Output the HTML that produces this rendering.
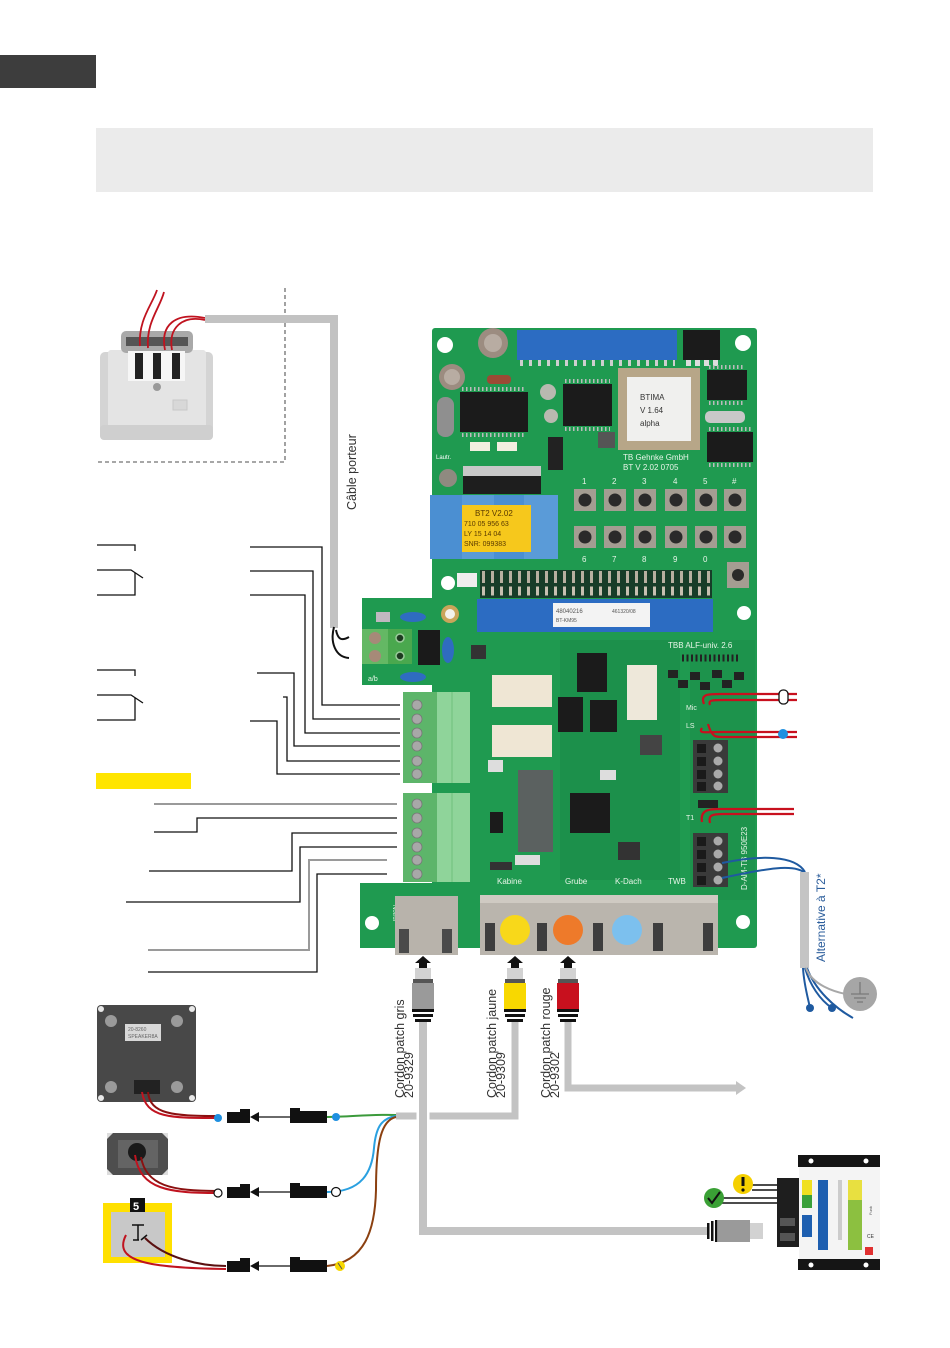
<!DOCTYPE html>
<html><head><meta charset="utf-8">
<style>
html,body{margin:0;padding:0;background:#fff;}
svg{display:block;}
text{font-family:"Liberation Sans",sans-serif;}
</style></head><body>
<svg width="950" height="1348" viewBox="0 0 950 1348" xmlns="http://www.w3.org/2000/svg">
<!-- header blocks -->
<rect x="0" y="55" width="96" height="33" fill="#3d3d3d"/>
<rect x="96" y="128" width="777" height="64" fill="#ebebeb"/>

<!-- dashed wall box -->
<path d="M285,288 V462 H97" fill="none" stroke="#8a8a8a" stroke-width="1.6" stroke-dasharray="4,3"/>

<!-- TAE socket -->
<g>
<rect x="100" y="352" width="113" height="88" rx="5" fill="#d4d4d4"/>
<rect x="108" y="350" width="98" height="78" rx="3" fill="#e4e4e4"/>
<rect x="100" y="425" width="113" height="15" rx="4" fill="#cfcfcf"/>
<rect x="121" y="331" width="72" height="22" rx="5" fill="#a9a9a9"/>
<rect x="126" y="337" width="62" height="9" fill="#555"/>
<rect x="128" y="351" width="57" height="30" fill="#f6f6f6"/>
<rect x="135" y="353" width="8" height="26" fill="#222"/>
<rect x="153" y="353" width="8" height="26" fill="#222"/>
<rect x="172" y="353" width="8" height="26" fill="#222"/>
<circle cx="157" cy="387" r="4" fill="#9a9a9a"/>
<rect x="173" y="400" width="14" height="10" fill="#d8d8d8" stroke="#c8c8c8"/>
</g>
<!-- red wires on socket -->
<g fill="none" stroke="#c0131f" stroke-width="1.8">
<path d="M140,346 C138,320 152,305 157,290"/>
<path d="M148,348 C146,322 160,308 164,292"/>
<path d="M165,350 C160,325 175,312 205,318"/>
<path d="M172,350 C168,328 182,315 205,320"/>
</g>
<!-- carrier cable -->
<path d="M205,319 H334 V628" fill="none" stroke="#c2c2c2" stroke-width="8"/>
<g fill="none" stroke="#111" stroke-width="2">
<path d="M334,627 C330,642 335,657 349,658"/>
<path d="M336,630 C338,640 342,641 349,637"/>
</g>
<text transform="translate(356,510) rotate(-90)" font-size="12.5" fill="#333">Câble porteur</text>

<!-- ============ PCB ============ -->
<g>
<rect x="432" y="328" width="325" height="620" rx="3" fill="#1f9a50"/>
<rect x="362" y="598" width="90" height="87" fill="#1f9a50"/>
<rect x="360" y="883" width="112" height="65" fill="#1f9a50"/>
<!-- subtle darker zones -->
<rect x="560" y="640" width="120" height="240" fill="#1a8a47" opacity="0.6"/>
<rect x="690" y="640" width="65" height="260" fill="#1c9049" opacity="0.6"/>
<!-- mounting holes -->
<g fill="#fff">
<circle cx="445" cy="345" r="8"/><circle cx="743" cy="343" r="8"/>
<circle cx="448" cy="583" r="7"/><circle cx="744" cy="613" r="7"/>
<circle cx="743" cy="922" r="7"/><circle cx="372" cy="923" r="7"/>
</g>
<circle cx="450" cy="614" r="9" fill="#c9a55a"/><circle cx="450" cy="614" r="5" fill="#f2f2ec"/>

<!-- top blue connector -->
<rect x="517" y="330" width="160" height="30" fill="#2c6cc2"/>
<line x1="520" y1="363" x2="675" y2="363" stroke="#cfcfcf" stroke-width="6" stroke-dasharray="3,6"/>
<!-- top right chip -->
<rect x="683" y="330" width="37" height="30" fill="#1b1b1b"/>
<line x1="686" y1="363" x2="718" y2="363" stroke="#ddd" stroke-width="6" stroke-dasharray="5,4"/>
<!-- capacitors -->
<circle cx="493" cy="343" r="15" fill="#9c8c80"/><circle cx="493" cy="343" r="9" fill="#b8aca2"/>
<circle cx="452" cy="377" r="13" fill="#9c8c80"/><circle cx="452" cy="377" r="8" fill="#b8aca2"/>
<rect x="487" y="375" width="24" height="9" rx="4" fill="#9b4a35"/>
<rect x="437" y="397" width="17" height="40" rx="8" fill="#8f8f8f"/>
<!-- chips -->
<rect x="460" y="392" width="68" height="40" fill="#1b1b1b"/>
<line x1="462" y1="389" x2="526" y2="389" stroke="#bbb" stroke-width="4" stroke-dasharray="1.5,2.5"/>
<line x1="462" y1="435" x2="526" y2="435" stroke="#bbb" stroke-width="4" stroke-dasharray="1.5,2.5"/>
<circle cx="548" cy="392" r="8" fill="#b9b9b0"/><circle cx="551" cy="416" r="7" fill="#b9b9b0"/>
<rect x="563" y="384" width="49" height="42" fill="#1b1b1b"/>
<line x1="565" y1="381" x2="610" y2="381" stroke="#bbb" stroke-width="4" stroke-dasharray="1.5,2.5"/>
<line x1="565" y1="429" x2="610" y2="429" stroke="#bbb" stroke-width="4" stroke-dasharray="1.5,2.5"/>
<!-- PLCC -->
<rect x="618" y="368" width="82" height="82" fill="#b7a688"/>
<rect x="627" y="377" width="64" height="64" fill="#f0f0ee"/>
<text x="640" y="400" font-size="8" fill="#333">BTIMA</text>
<text x="640" y="413" font-size="8" fill="#333">V  1.64</text>
<text x="640" y="426" font-size="8" fill="#333">alpha</text>
<rect x="707" y="370" width="40" height="30" fill="#1b1b1b"/>
<line x1="709" y1="367" x2="745" y2="367" stroke="#bbb" stroke-width="4" stroke-dasharray="1.5,2.5"/>
<line x1="709" y1="403" x2="745" y2="403" stroke="#bbb" stroke-width="4" stroke-dasharray="1.5,2.5"/>
<rect x="705" y="411" width="40" height="12" rx="5" fill="#c8c8c8"/>
<rect x="707" y="432" width="46" height="30" fill="#1b1b1b"/>
<line x1="709" y1="429" x2="751" y2="429" stroke="#bbb" stroke-width="4" stroke-dasharray="1.5,2.5"/>
<line x1="709" y1="465" x2="751" y2="465" stroke="#bbb" stroke-width="4" stroke-dasharray="1.5,2.5"/>
<rect x="548" y="437" width="15" height="33" fill="#222"/>
<rect x="598" y="432" width="17" height="16" fill="#555"/>
<rect x="470" y="442" width="20" height="9" fill="#f2efe0"/>
<rect x="497" y="442" width="20" height="9" fill="#f2efe0"/>
<text x="436" y="459" font-size="6" fill="#fff">Lautr.</text>
<text x="623" y="460" font-size="8" fill="#e8f5e8" font-family="Liberation Mono, monospace">TB Gehnke GmbH</text>
<text x="623" y="470" font-size="8" fill="#e8f5e8" font-family="Liberation Mono, monospace">BT V 2.02 0705</text>
<rect x="463" y="466" width="78" height="10" fill="#c8c8c8"/>
<rect x="463" y="476" width="78" height="18" fill="#1e1e1e"/>
<circle cx="448" cy="478" r="9" fill="#8f8a80"/>
<!-- blue relay blocks + yellow label -->
<rect x="430" y="495" width="32" height="64" fill="#4b8fd2"/>
<rect x="462" y="495" width="32" height="64" fill="#5a9bd8"/>
<rect x="494" y="495" width="30" height="64" fill="#4b8fd2"/>
<rect x="524" y="495" width="34" height="64" fill="#5a9bd8"/>
<rect x="462" y="505" width="69" height="47" fill="#f6c81c"/>
<text x="475" y="516" font-size="8" fill="#5a3a00" font-family="Liberation Mono, monospace">BT2 V2.02</text>
<text x="464" y="526" font-size="7" fill="#5a3a00" font-family="Liberation Mono, monospace">710 05 956 63</text>
<text x="464" y="536" font-size="7" fill="#5a3a00" font-family="Liberation Mono, monospace">LY  15 14 04</text>
<text x="464" y="546" font-size="7" fill="#5a3a00" font-family="Liberation Mono, monospace">SNR: 099383</text>
<!-- button numbers -->
<g font-size="8" fill="#e8f5e8" font-family="Liberation Mono, monospace">
<text x="582" y="484">1</text><text x="612" y="484">2</text><text x="642" y="484">3</text><text x="673" y="484">4</text><text x="703" y="484">5</text><text x="732" y="484">#</text>
<text x="582" y="562">6</text><text x="612" y="562">7</text><text x="642" y="562">8</text><text x="673" y="562">9</text><text x="703" y="562">0</text>
</g>
<!-- buttons -->
<g>
<g fill="#a49d92"><rect x="574" y="489" width="22" height="22"/><rect x="604" y="489" width="22" height="22"/><rect x="634" y="489" width="22" height="22"/><rect x="665" y="489" width="22" height="22"/><rect x="695" y="489" width="22" height="22"/><rect x="724" y="489" width="22" height="22"/>
<rect x="574" y="526" width="22" height="22"/><rect x="604" y="526" width="22" height="22"/><rect x="634" y="526" width="22" height="22"/><rect x="665" y="526" width="22" height="22"/><rect x="695" y="526" width="22" height="22"/><rect x="724" y="526" width="22" height="22"/>
<rect x="727" y="562" width="22" height="26"/></g>
<g fill="#2a2a2a"><circle cx="585" cy="500" r="6.5"/><circle cx="615" cy="500" r="6.5"/><circle cx="645" cy="500" r="6.5"/><circle cx="676" cy="500" r="6.5"/><circle cx="706" cy="500" r="6.5"/><circle cx="735" cy="500" r="6.5"/>
<circle cx="585" cy="537" r="6.5"/><circle cx="615" cy="537" r="6.5"/><circle cx="645" cy="537" r="6.5"/><circle cx="676" cy="537" r="6.5"/><circle cx="706" cy="537" r="6.5"/><circle cx="735" cy="537" r="6.5"/>
<circle cx="738" cy="575" r="6"/></g>
</g>
<!-- pin header -->
<rect x="480" y="570" width="232" height="28" fill="#173d28"/>
<line x1="482" y1="577" x2="710" y2="577" stroke="#b8b0a0" stroke-width="12" stroke-dasharray="3,6"/>
<line x1="482" y1="591" x2="710" y2="591" stroke="#c8c0b0" stroke-width="9" stroke-dasharray="3,6"/>
<rect x="457" y="573" width="20" height="14" fill="#eee"/>
<!-- lower blue connector -->
<rect x="477" y="599" width="236" height="33" fill="#2c6cc2"/>
<rect x="553" y="603" width="97" height="24" fill="#f3f3f3"/>
<text x="556" y="613" font-size="6" fill="#555">48040216</text>
<text x="612" y="613" font-size="5" fill="#555">461320/08</text>
<text x="556" y="622" font-size="5" fill="#555">BT-KM95</text>
<text x="668" y="648" font-size="8" fill="#e8f5e8" font-family="Liberation Mono, monospace">TBB ALF-univ. 2.6</text>
<line x1="682" y1="658" x2="740" y2="658" stroke="#222" stroke-width="7" stroke-dasharray="2,2.5"/>
<g fill="#222"><rect x="668" y="670" width="10" height="8"/><rect x="690" y="672" width="10" height="8"/><rect x="712" y="670" width="10" height="8"/><rect x="734" y="672" width="10" height="8"/><rect x="678" y="680" width="10" height="8"/><rect x="700" y="682" width="10" height="8"/><rect x="722" y="680" width="10" height="8"/></g>

<!-- power section components -->
<rect x="362" y="629" width="26" height="35" fill="#64b864"/>
<rect x="388" y="629" width="24" height="35" fill="#4aa84e"/>
<circle cx="375" cy="638" r="6" fill="#a68a78"/><circle cx="375" cy="656" r="6" fill="#a68a78"/>
<circle cx="400" cy="638" r="4" fill="#1d3a20" stroke="#9acb9a" stroke-width="1.5"/><circle cx="400" cy="656" r="4" fill="#1d3a20" stroke="#9acb9a" stroke-width="1.5"/>
<rect x="418" y="630" width="22" height="35" fill="#1a1a1a"/>
<rect x="376" y="612" width="14" height="10" fill="#c0b8c0"/>
<ellipse cx="413" cy="617" rx="13" ry="5" fill="#2f6cc0"/>
<ellipse cx="413" cy="677" rx="13" ry="5" fill="#2f6cc0"/>
<ellipse cx="448" cy="650" rx="6" ry="13" fill="#2f6cc0"/>
<text x="368" y="681" font-size="7" fill="#e8f5e8">a/b</text>

<!-- middle area -->
<rect x="492" y="675" width="60" height="32" fill="#efe6d4"/>
<rect x="492" y="725" width="60" height="32" fill="#efe6d4"/>
<rect x="627" y="665" width="30" height="55" fill="#eee8da"/>
<rect x="577" y="653" width="30" height="39" fill="#1b1b1b"/>
<rect x="558" y="697" width="25" height="35" fill="#1b1b1b"/>
<rect x="590" y="700" width="27" height="32" fill="#1b1b1b"/>
<rect x="640" y="735" width="22" height="20" fill="#444"/>
<rect x="471" y="645" width="15" height="14" fill="#333"/>
<rect x="488" y="760" width="15" height="12" fill="#ddd"/>
<rect x="518" y="770" width="35" height="82" fill="#5b6160"/>
<rect x="570" y="793" width="40" height="40" fill="#1b1b1b"/>
<rect x="490" y="812" width="13" height="21" fill="#1b1b1b"/>
<rect x="600" y="770" width="16" height="10" fill="#ddd"/>
<rect x="618" y="842" width="22" height="18" fill="#333"/>
<rect x="515" y="855" width="25" height="10" fill="#ddd"/>
<rect x="490" y="862" width="22" height="8" fill="#333"/>
<!-- right terminals -->
<rect x="693" y="740" width="35" height="53" fill="#3a3a3a"/>
<g fill="#1a1a1a"><rect x="697" y="744" width="9" height="9"/><rect x="697" y="757" width="9" height="9"/><rect x="697" y="770" width="9" height="9"/><rect x="697" y="782" width="9" height="9"/></g>
<g fill="#aaa"><circle cx="718" cy="748" r="4.5"/><circle cx="718" cy="761" r="4.5"/><circle cx="718" cy="774" r="4.5"/><circle cx="718" cy="786" r="4.5"/></g>
<rect x="693" y="833" width="35" height="54" fill="#3a3a3a"/>
<g fill="#1a1a1a"><rect x="697" y="837" width="9" height="9"/><rect x="697" y="850" width="9" height="9"/><rect x="697" y="863" width="9" height="9"/><rect x="697" y="876" width="9" height="9"/></g>
<g fill="#aaa"><circle cx="718" cy="841" r="4.5"/><circle cx="718" cy="854" r="4.5"/><circle cx="718" cy="867" r="4.5"/><circle cx="718" cy="880" r="4.5"/></g>
<rect x="698" y="800" width="20" height="8" fill="#222"/>
<g font-size="7" fill="#e8f5e8"><text x="686" y="710">Mic</text><text x="686" y="728">LS</text><text x="686" y="820">T1</text></g>
<text transform="translate(747,890) rotate(-90)" font-size="8" fill="#e8f5e8" font-family="Liberation Mono, monospace">D-AM-TB 950E23</text>
<!-- bottom labels -->
<g font-size="8" fill="#e8f5e8" font-family="Liberation Mono, monospace">
<text x="497" y="884">Kabine</text><text x="565" y="884">Grube</text><text x="615" y="884">K-Dach</text><text x="668" y="884">TWB</text>
</g>
<text transform="translate(393,905) rotate(90)" font-size="6" fill="#e8f5e8">Notruf</text>

<!-- terminal blocks (green) -->
<rect x="403" y="692" width="34" height="91" fill="#5db56a"/>
<rect x="437" y="692" width="33" height="91" fill="#8fd49a"/>
<line x1="452" y1="692" x2="452" y2="783" stroke="#6fc07c" stroke-width="1"/>
<g fill="#a8a8a8" stroke="#777" stroke-width="0.8">
<circle cx="417" cy="705" r="5"/><circle cx="417" cy="719" r="5"/><circle cx="417" cy="733" r="5"/><circle cx="417" cy="746" r="5"/><circle cx="417" cy="761" r="5"/><circle cx="417" cy="774" r="5"/>
</g>
<rect x="403" y="793" width="34" height="89" fill="#5db56a"/>
<rect x="437" y="793" width="33" height="89" fill="#8fd49a"/>
<line x1="452" y1="793" x2="452" y2="882" stroke="#6fc07c" stroke-width="1"/>
<g fill="#a8a8a8" stroke="#777" stroke-width="0.8">
<circle cx="417" cy="804" r="5"/><circle cx="417" cy="818" r="5"/><circle cx="417" cy="833" r="5"/><circle cx="417" cy="847" r="5"/><circle cx="417" cy="860" r="5"/><circle cx="417" cy="874" r="5"/>
</g>

<!-- RJ45 sockets -->
<rect x="395" y="896" width="63" height="59" fill="#b8b3ab"/>
<rect x="399" y="929" width="10" height="24" fill="#4a4a4a"/>
<rect x="442" y="929" width="10" height="24" fill="#4a4a4a"/>
<rect x="480" y="895" width="238" height="60" fill="#bab5ad"/>
<rect x="480" y="895" width="238" height="8" fill="#cfcac2"/>
<g fill="#3e3e3e"><rect x="485" y="923" width="10" height="28"/><rect x="537" y="923" width="10" height="28"/><rect x="593" y="923" width="10" height="28"/><rect x="653" y="923" width="10" height="28"/><rect x="703" y="923" width="10" height="28"/></g>
<circle cx="515" cy="930" r="15" fill="#f8d81a"/>
<circle cx="568" cy="930" r="15" fill="#ee7a2a"/>
<circle cx="627" cy="930" r="15" fill="#7cc0ee"/>
</g>

<!-- right-side red wire pairs -->
<g fill="none" stroke="#c8101e" stroke-width="2.2">
<path d="M704,704 C700,694 708,694 720,694 H797"/>
<path d="M710,705 C708,700 712,700 724,700 H797"/>
<path d="M702,728 C698,734 705,732 720,732 H797"/>
<path d="M708,724 C712,738 716,737 724,737 H797"/>
<path d="M702,822 C700,810 708,809 720,809 H794"/>
<path d="M710,823 C708,815 712,814 724,814 H794"/>
</g>
<rect x="779" y="690" width="9" height="14" rx="4" fill="#fff" stroke="#111" stroke-width="1.3"/>
<circle cx="783" cy="734" r="5" fill="#1e8fe0"/>

<!-- blue wires & alt cable -->
<g fill="none" stroke="#1f5aa0" stroke-width="2">
<path d="M722,863 C760,855 795,855 805,872"/>
<path d="M722,878 C760,870 795,862 806,874"/>
</g>
<rect x="800" y="872" width="9" height="96" fill="#c4c4c4"/>
<g fill="none" stroke="#1f5aa0" stroke-width="2">
<path d="M803,968 C804,985 808,998 810,1008"/>
<path d="M805,968 C810,985 820,1000 832,1008"/>
<path d="M807,968 C815,990 835,1008 853,1018"/>
</g>
<path d="M806,968 C812,985 835,992 846,994" fill="none" stroke="#a8a8a8" stroke-width="2"/>
<circle cx="810" cy="1008" r="4" fill="#1f5aa0"/>
<circle cx="832" cy="1008" r="4" fill="#1f5aa0"/>
<circle cx="860" cy="994" r="17" fill="#a6a6a6"/>
<g stroke="#7a7a7a" stroke-width="1.3"><line x1="860" y1="982" x2="860" y2="994"/><line x1="851" y1="994" x2="869" y2="994"/><line x1="854" y1="998" x2="866" y2="998"/><line x1="857" y1="1002" x2="863" y2="1002"/></g>
<text transform="translate(825,962) rotate(-90)" font-size="12" fill="#2b5d9b">Alternative à T2*</text>

<!-- left wiring lines -->
<g fill="none" stroke="#111" stroke-width="1.3">
<path d="M97,545 H135 V551"/><path d="M97,570 H131 L143,578"/><path d="M135,573 V595 H97"/>
<path d="M97,670 H135 V676"/><path d="M97,695 H131 L143,703"/><path d="M135,698 V720 H97"/>
<path d="M250,547 H322 V705 H400"/>
<path d="M250,571 H313 V719 H400"/>
<path d="M250,595 H305 V733 H400"/>
<path d="M257,673 H294 V746 H400"/>
<path d="M283,697 H287 V761 H400"/>
<path d="M250,721 H277 V774 H400"/>
<path d="M154,832 H197 V818 H397"/>
<path d="M149,871 H292 V833 H397"/>
<path d="M126,902 H300 V847 H397"/>
<path d="M148,972 H317 V874 H387"/>
</g>
<g fill="none" stroke="#9a9a9a" stroke-width="2">
<path d="M154,804 H397"/>
<path d="M148,950 H309 V860 H387"/>
</g>
<rect x="96" y="773" width="95" height="16" fill="#ffe500"/>

<!-- patch cables -->
<g fill="none" stroke="#c3c3c3" stroke-width="7">
<path d="M515,1022 V1116 H396"/>
<path d="M568,1022 V1088 H736"/>
</g>
<path d="M736,1081 L746,1088 L736,1095 Z" fill="#c3c3c3"/>
<line x1="423" y1="1105" x2="423" y2="1127" stroke="#fff" stroke-width="13"/>
<path d="M423,1022 V1231 H707" fill="none" stroke="#c3c3c3" stroke-width="8"/>

<!-- plugs -->
<g>
<path d="M423,956 L431,963 H427 V968 H419 V963 H415 Z" fill="#111"/>
<rect x="415" y="968" width="16" height="11" fill="#d2d2d2"/>
<rect x="413" y="979" width="20" height="4" fill="#555"/>
<rect x="412" y="983" width="22" height="26" fill="#9a9a9a"/>
<rect x="412" y="1009" width="22" height="3" fill="#111"/><rect x="413" y="1014" width="20" height="3" fill="#111"/><rect x="415" y="1019" width="16" height="3" fill="#111"/>

<path d="M515,956 L523,963 H519 V968 H511 V963 H507 Z" fill="#111"/>
<rect x="507" y="968" width="16" height="11" fill="#d2d2d2"/>
<rect x="505" y="979" width="20" height="4" fill="#555"/>
<rect x="504" y="983" width="22" height="26" fill="#f8d800"/>
<rect x="504" y="1009" width="22" height="3" fill="#111"/><rect x="505" y="1014" width="20" height="3" fill="#111"/><rect x="507" y="1019" width="16" height="3" fill="#111"/>

<path d="M568,956 L576,963 H572 V968 H564 V963 H560 Z" fill="#111"/>
<rect x="560" y="968" width="16" height="11" fill="#d2d2d2"/>
<rect x="558" y="979" width="20" height="4" fill="#555"/>
<rect x="557" y="983" width="22" height="26" fill="#c8101e"/>
<rect x="557" y="1009" width="22" height="3" fill="#111"/><rect x="558" y="1014" width="20" height="3" fill="#111"/><rect x="560" y="1019" width="16" height="3" fill="#111"/>
</g>
<g font-size="12.5" fill="#333">
<text transform="translate(404,1098) rotate(-90)">Cordon patch gris</text>
<text transform="translate(413,1098) rotate(-90)">20-9329</text>
<text transform="translate(496,1098) rotate(-90)">Cordon patch jaune</text>
<text transform="translate(505,1098) rotate(-90)">20-9309</text>
<text transform="translate(550,1098) rotate(-90)">Cordon patch rouge</text>
<text transform="translate(559,1098) rotate(-90)">20-9302</text>
</g>

<!-- bottom-left devices -->
<rect x="97" y="1005" width="99" height="97" rx="4" fill="#484848"/>
<g fill="#e8e8e8"><circle cx="101" cy="1009" r="3"/><circle cx="192" cy="1009" r="3"/><circle cx="101" cy="1098" r="3"/><circle cx="192" cy="1098" r="3"/></g>
<g fill="#9a9a9a"><circle cx="111" cy="1021" r="6"/><circle cx="177" cy="1021" r="6"/><circle cx="111" cy="1087" r="6"/><circle cx="177" cy="1087" r="6"/></g>
<rect x="125" y="1024" width="36" height="17" fill="#d8d8d8"/>
<text x="128" y="1031" font-size="5" fill="#666">20-8260</text>
<text x="128" y="1038" font-size="5" fill="#666">SPEAKER8A</text>
<rect x="134" y="1080" width="26" height="14" fill="#222"/>
<rect x="107" y="1133" width="61" height="42" fill="#4e4e4e"/>
<g fill="#ddd"><path d="M107,1133 h6 l-6,6z"/><path d="M168,1133 h-6 l6,6z"/><path d="M107,1175 h6 l-6,-6z"/><path d="M168,1175 h-6 l6,-6z"/></g>
<rect x="118" y="1140" width="40" height="28" fill="#646464"/>
<circle cx="137" cy="1152" r="9" fill="#1a1a1a"/>
<rect x="103" y="1203" width="69" height="60" fill="#ffe000"/>
<rect x="111" y="1212" width="54" height="45" fill="#c8c8c8"/>
<rect x="130" y="1198" width="15" height="14" fill="#111"/>
<text x="133" y="1210" font-size="11" font-weight="bold" fill="#fff">5</text>
<g stroke="#111" stroke-width="1.5" fill="none"><path d="M132,1225 H144"/><path d="M138,1225 V1240"/><path d="M133,1240 H139"/><path d="M141,1240 L147,1235"/></g>

<g fill="none" stroke-width="2">
<path d="M142,1092 C146,1118 170,1118 218,1118" stroke="#c0131f"/>
<path d="M148,1092 C150,1114 172,1116 218,1116" stroke="#8b1010"/>
<path d="M135,1155 C140,1190 170,1193 218,1193" stroke="#c0131f"/>
<path d="M141,1157 C146,1186 172,1191 218,1191" stroke="#8b1010"/>
<path d="M126,1235 C112,1262 150,1268 226,1269" stroke="#c0131f"/>
<path d="M145,1238 C165,1258 200,1266 226,1266" stroke="#5a1010"/>
</g>
<g fill="#111">
<rect x="227" y="1112" width="23" height="11"/><rect x="240" y="1109" width="10" height="4"/>
<rect x="227" y="1187" width="23" height="11"/><rect x="240" y="1184" width="10" height="4"/>
<rect x="227" y="1261" width="23" height="11"/><rect x="240" y="1258" width="10" height="4"/>
<rect x="290" y="1111" width="37" height="12"/><rect x="290" y="1108" width="10" height="4"/>
<rect x="290" y="1186" width="37" height="12"/><rect x="290" y="1183" width="10" height="4"/>
<rect x="290" y="1260" width="37" height="12"/><rect x="290" y="1257" width="10" height="4"/>
<path d="M250,1117 L259,1112 V1122 Z"/><path d="M250,1192 L259,1187 V1197 Z"/><path d="M250,1266 L259,1261 V1271 Z"/>
</g>
<g stroke="#111" stroke-width="1.3"><line x1="258" y1="1117" x2="290" y2="1117"/><line x1="258" y1="1192" x2="290" y2="1192"/><line x1="258" y1="1266" x2="290" y2="1266"/></g>
<g fill="none" stroke-width="2">
<path d="M327,1117 C350,1117 370,1114 396,1115" stroke="#3b9a3b"/>
<path d="M327,1192 C362,1192 372,1172 374,1148 C376,1125 383,1118 396,1116" stroke="#2aa0e0"/>
<path d="M327,1266 C365,1262 375,1230 376,1190 C376,1140 382,1120 396,1117" stroke="#8b4010"/>
</g>
<circle cx="218" cy="1118" r="4" fill="#1e8fe0"/>
<circle cx="336" cy="1117" r="4" fill="#1e8fe0"/>
<circle cx="218" cy="1193" r="4" fill="#fff" stroke="#111" stroke-width="1.2"/>
<circle cx="336" cy="1192" r="4.5" fill="#fff" stroke="#111" stroke-width="1.2"/>
<circle cx="340" cy="1266" r="5" fill="#f8d800"/>
<line x1="338" y1="1263" x2="342" y2="1269" stroke="#555" stroke-width="1"/>

<!-- bottom-right device -->
<rect x="798" y="1155" width="82" height="12" fill="#151515"/>
<rect x="798" y="1259" width="82" height="11" fill="#151515"/>
<circle cx="811" cy="1161" r="2.5" fill="#fff"/><circle cx="866" cy="1161" r="2.5" fill="#fff"/>
<circle cx="811" cy="1265" r="2.5" fill="#fff"/><circle cx="866" cy="1265" r="2.5" fill="#fff"/>
<rect x="799" y="1167" width="81" height="92" fill="#f4f4f4"/>
<rect x="777" y="1178" width="22" height="69" fill="#1e1e1e"/>
<rect x="780" y="1218" width="15" height="8" fill="#555"/><rect x="780" y="1233" width="15" height="8" fill="#555"/>
<rect x="802" y="1180" width="10" height="15" fill="#f0e020"/>
<rect x="802" y="1195" width="10" height="13" fill="#3aa03a"/>
<rect x="802" y="1215" width="10" height="22" fill="#1e5fb0"/>
<rect x="818" y="1180" width="10" height="70" fill="#1e5fb0"/>
<rect x="838" y="1180" width="4" height="60" fill="#ccc"/>
<rect x="848" y="1180" width="14" height="20" fill="#e8e040"/>
<rect x="848" y="1200" width="14" height="50" fill="#8cc040"/>
<rect x="865" y="1247" width="8" height="8" fill="#e03030"/>
<text transform="translate(872,1215) rotate(-90)" font-size="4" fill="#555">Funk</text>
<text x="867" y="1238" font-size="5" fill="#333">CE</text>
<g stroke="#111" stroke-width="1.5">
<line x1="752" y1="1185" x2="777" y2="1185"/><line x1="752" y1="1190" x2="777" y2="1190"/>
<line x1="722" y1="1198" x2="777" y2="1198"/><line x1="722" y1="1203" x2="777" y2="1203"/>
</g>
<circle cx="743" cy="1184" r="10" fill="#f5d000"/>
<rect x="741.5" y="1177" width="3" height="9" fill="#111"/><circle cx="743" cy="1190" r="1.6" fill="#111"/>
<circle cx="714" cy="1198" r="10" fill="#3aa035"/>
<path d="M708,1198 L712,1203 L720,1192" fill="none" stroke="#111" stroke-width="2"/>
<!-- gray plug -->
<g fill="#111"><rect x="707" y="1223" width="2.5" height="16"/><rect x="711" y="1221" width="2.5" height="20"/><rect x="715" y="1220" width="2.5" height="22"/></g>
<rect x="718" y="1220" width="32" height="22" fill="#9a9a9a"/>
<rect x="750" y="1223" width="13" height="16" fill="#d2d2d2"/>
</svg>
</body></html>
